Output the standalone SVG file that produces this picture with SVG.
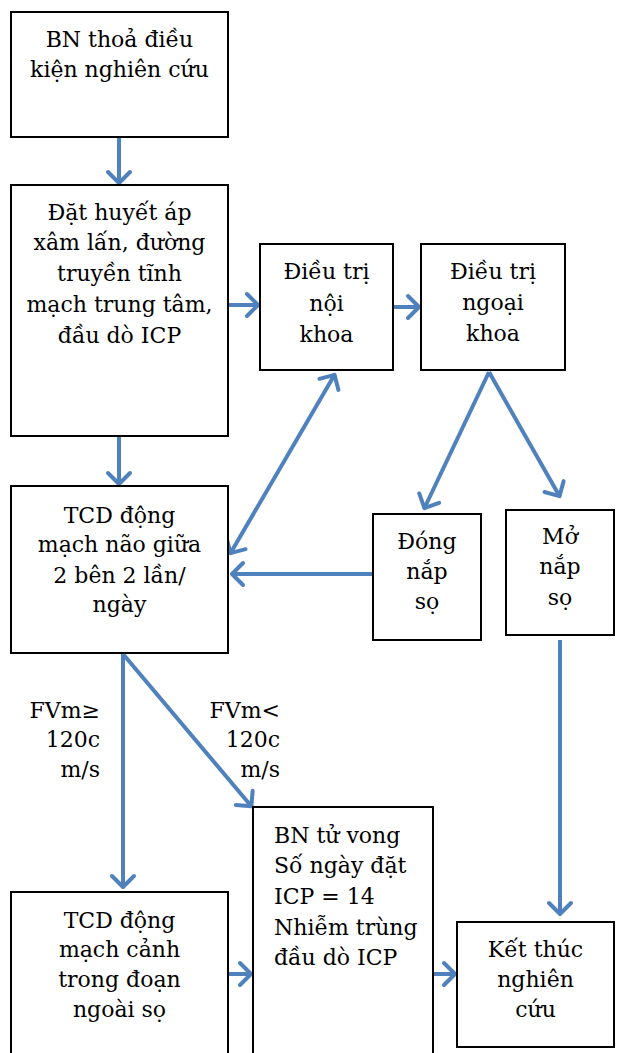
<svg xmlns="http://www.w3.org/2000/svg" width="619" height="1053" viewBox="0 0 619 1053">
  <defs>
    <marker id="arrow" markerUnits="userSpaceOnUse" viewBox="-16 -16 32 32" markerWidth="32" markerHeight="32" refX="0" refY="0" orient="auto-start-reverse">
      <path d="M -12 -11 L -1 0 L -12 11" fill="none" stroke="#4F81BD" stroke-width="4" stroke-linecap="round" stroke-linejoin="round"/>
    </marker>
  </defs>
  <rect width="619" height="1053" fill="#ffffff"/>

  <!-- connectors: shared stroke inherited from the group -->
  <g id="connectors" fill="none" stroke="#4F81BD" stroke-width="4">
    <line x1="119" y1="138" x2="119" y2="184" marker-end="url(#arrow)"/>
    <line x1="229" y1="305" x2="259" y2="305" marker-end="url(#arrow)"/>
    <line x1="394" y1="307" x2="420" y2="307" marker-end="url(#arrow)"/>
    <line x1="119" y1="437" x2="119" y2="485" marker-end="url(#arrow)"/>
    <line x1="230" y1="554" x2="335" y2="374" marker-start="url(#arrow)" marker-end="url(#arrow)"/>
    <line x1="489" y1="372" x2="424" y2="509" marker-end="url(#arrow)"/>
    <line x1="489" y1="372" x2="560" y2="497" marker-end="url(#arrow)"/>
    <line x1="373" y1="574" x2="231" y2="574" marker-end="url(#arrow)"/>
    <line x1="123" y1="654" x2="123" y2="888" marker-end="url(#arrow)"/>
    <line x1="123" y1="654" x2="252" y2="807" marker-end="url(#arrow)"/>
    <line x1="229" y1="974" x2="252" y2="974" marker-end="url(#arrow)"/>
    <line x1="434" y1="974" x2="456" y2="974" marker-end="url(#arrow)"/>
    <line x1="560" y1="640" x2="560" y2="915" marker-end="url(#arrow)"/>
  </g>

  <!-- branch labels -->
  <g id="label-high" text-anchor="end">
    <text font-family="DejaVu Serif" font-size="22" x="100" y="718">FVm≥</text>
    <text font-family="DejaVu Serif" font-size="22" x="100" y="747">120c</text>
    <text font-family="DejaVu Serif" font-size="22" x="100" y="777">m/s</text>
  </g>
  <g id="label-low" text-anchor="end">
    <text font-family="DejaVu Serif" font-size="22" x="280" y="718">FVm&lt;</text>
    <text font-family="DejaVu Serif" font-size="22" x="280" y="747">120c</text>
    <text font-family="DejaVu Serif" font-size="22" x="280" y="777">m/s</text>
  </g>

  <g id="n-inclusion" text-anchor="middle">
    <rect x="11" y="12" width="217" height="125" fill="#ffffff" stroke="#000000" stroke-width="2"/>
    <text font-family="DejaVu Serif" font-size="22" x="119.5" y="47">BN thoả điều</text>
    <text font-family="DejaVu Serif" font-size="22" x="119.5" y="77">kiện nghiên cứu</text>
  </g>

  <g id="n-monitoring" text-anchor="middle">
    <rect x="11" y="185" width="217" height="251" fill="#ffffff" stroke="#000000" stroke-width="2"/>
    <text font-family="DejaVu Serif" font-size="22" x="119.5" y="220">Đặt huyết áp</text>
    <text font-family="DejaVu Serif" font-size="22" x="119.5" y="250">xâm lấn, đường</text>
    <text font-family="DejaVu Serif" font-size="22" x="119.5" y="281">truyền tĩnh</text>
    <text font-family="DejaVu Serif" font-size="22" x="119.5" y="312">mạch trung tâm,</text>
    <text font-family="DejaVu Serif" font-size="22" x="119.5" y="343">đầu dò ICP</text>
  </g>

  <g id="n-medical" text-anchor="middle">
    <rect x="260" y="244" width="133" height="126" fill="#ffffff" stroke="#000000" stroke-width="2"/>
    <text font-family="DejaVu Serif" font-size="22" x="326.5" y="279">Điều trị</text>
    <text font-family="DejaVu Serif" font-size="22" x="326.5" y="311">nội</text>
    <text font-family="DejaVu Serif" font-size="22" x="326.5" y="342">khoa</text>
  </g>

  <g id="n-surgical" text-anchor="middle">
    <rect x="421" y="244" width="144" height="126" fill="#ffffff" stroke="#000000" stroke-width="2"/>
    <text font-family="DejaVu Serif" font-size="22" x="493" y="279">Điều trị</text>
    <text font-family="DejaVu Serif" font-size="22" x="493" y="310">ngoại</text>
    <text font-family="DejaVu Serif" font-size="22" x="493" y="341">khoa</text>
  </g>

  <g id="n-tcd-mca" text-anchor="middle">
    <rect x="11" y="486" width="217" height="167" fill="#ffffff" stroke="#000000" stroke-width="2"/>
    <text font-family="DejaVu Serif" font-size="22" x="119.5" y="523">TCD động</text>
    <text font-family="DejaVu Serif" font-size="22" x="119.5" y="552">mạch não giữa</text>
    <text font-family="DejaVu Serif" font-size="22" x="119.5" y="583">2 bên 2 lần/</text>
    <text font-family="DejaVu Serif" font-size="22" x="119.5" y="612">ngày</text>
  </g>

  <g id="n-closed" text-anchor="middle">
    <rect x="373" y="514" width="108" height="126" fill="#ffffff" stroke="#000000" stroke-width="2"/>
    <text font-family="DejaVu Serif" font-size="22" x="427" y="549">Đóng</text>
    <text font-family="DejaVu Serif" font-size="22" x="427" y="579">nắp</text>
    <text font-family="DejaVu Serif" font-size="22" x="427" y="609">sọ</text>
  </g>

  <g id="n-open" text-anchor="middle">
    <rect x="506" y="510" width="108" height="125" fill="#ffffff" stroke="#000000" stroke-width="2"/>
    <text font-family="DejaVu Serif" font-size="22" x="560" y="544">Mở</text>
    <text font-family="DejaVu Serif" font-size="22" x="560" y="574">nắp</text>
    <text font-family="DejaVu Serif" font-size="22" x="560" y="605">sọ</text>
  </g>

  <g id="n-tcd-carotid" text-anchor="middle">
    <rect x="11" y="892" width="217" height="175" fill="#ffffff" stroke="#000000" stroke-width="2"/>
    <text font-family="DejaVu Serif" font-size="22" x="119.5" y="928">TCD động</text>
    <text font-family="DejaVu Serif" font-size="22" x="119.5" y="957">mạch cảnh</text>
    <text font-family="DejaVu Serif" font-size="22" x="119.5" y="987">trong đoạn</text>
    <text font-family="DejaVu Serif" font-size="22" x="119.5" y="1017">ngoài sọ</text>
  </g>

  <g id="n-exclusion">
    <rect x="253" y="807" width="180" height="260" fill="#ffffff" stroke="#000000" stroke-width="2"/>
    <text font-family="DejaVu Serif" font-size="22" x="274" y="843">BN tử vong</text>
    <text font-family="DejaVu Serif" font-size="22" x="274" y="873">Số ngày đặt</text>
    <text font-family="DejaVu Serif" font-size="22" x="274" y="904">ICP = 14</text>
    <text font-family="DejaVu Serif" font-size="22" x="274" y="935">Nhiễm trùng</text>
    <text font-family="DejaVu Serif" font-size="22" x="274" y="965">đầu dò ICP</text>
  </g>

  <g id="n-end" text-anchor="middle">
    <rect x="457" y="922" width="157" height="125" fill="#ffffff" stroke="#000000" stroke-width="2"/>
    <text font-family="DejaVu Serif" font-size="22" x="535.5" y="957">Kết thúc</text>
    <text font-family="DejaVu Serif" font-size="22" x="535.5" y="987">nghiên</text>
    <text font-family="DejaVu Serif" font-size="22" x="535.5" y="1017">cứu</text>
  </g>
</svg>
